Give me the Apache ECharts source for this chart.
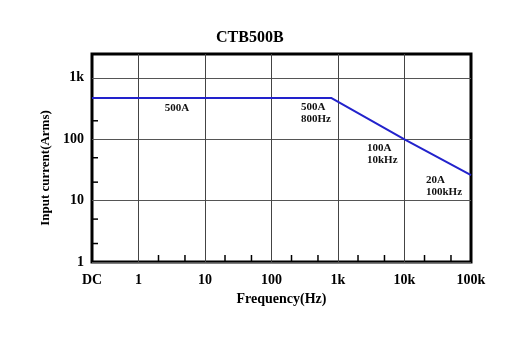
<!DOCTYPE html>
<html>
<head>
<meta charset="utf-8">
<script src="https://cdn.jsdelivr.net/npm/echarts@6/dist/echarts.min.js"></script>
<style>
  html, body { margin: 0; padding: 0; background: #fff; }
  #chart { width: 524px; height: 353px; }
</style>
</head>
<body>
<div id="chart"></div>
<script>
// curve: frequency (Hz) vs input current (Arms)
const freqHz = [0.2, 800, 10000, 100000];
const currentA = [470, 470, 100, 26];

// axis ticks
const xTickFreqs = [0.2, 1, 10, 100, 1000, 10000, 100000];
const xTickLabels = ["DC", "1", "10", "100", "1k", "10k", "100k"];
const xGridFreqs = [1, 10, 100, 1000, 10000];
const xMinorFreqs = [2, 5, 20, 50, 200, 500, 2000, 5000, 20000, 50000];
const yTickValues = [1, 10, 100, 1000];
const yTickLabels = ["1", "10", "100", "1k"];
const yMinorValues = [2, 5, 20, 50, 200];
const yMax = 2450;

// annotations
const notes = ["500A", "500A\n800Hz", "100A\n10kHz", "20A\n100kHz"];

const lg = Math.log10;
const xMin = lg(freqHz[0]);
const xMax = lg(100000);
const yMin = 0;

const chart = echarts.init(document.getElementById("chart"));
const serif = "Liberation Serif";

const option = {
  animation: false,
  title: {
    text: "CTB500B",
    left: 216,
    top: 30,
    padding: 0,
    textStyle: { fontFamily: serif, fontWeight: "bold", fontSize: 16, color: "#000" }
  },
  grid: {
    left: 92, right: 53, top: 54, bottom: 91,
    show: true, borderColor: "#000", borderWidth: 3
  },
  xAxis: {
    type: "value",
    min: xMin, max: xMax,
    name: "Frequency(Hz)",
    nameLocation: "middle",
    nameGap: 27,
    nameTextStyle: { fontFamily: serif, fontWeight: "bold", fontSize: 14, color: "#000" },
    axisLine: { show: false },
    axisTick: { show: false, customValues: xGridFreqs.map(lg) },
    axisLabel: {
      customValues: xTickFreqs.map(lg),
      margin: 11,
      fontFamily: serif, fontWeight: "bold", fontSize: 14, color: "#000",
      formatter: (v) => {
        const i = xTickFreqs.findIndex(f => Math.abs(lg(f) - v) < 1e-6);
        return i >= 0 ? xTickLabels[i] : "";
      }
    },
    splitLine: { show: true, customValues: xGridFreqs.map(lg), lineStyle: { color: "#444", width: 1 } }
  },
  yAxis: {
    type: "value",
    min: yMin, max: lg(yMax),
    name: "Input current(Arms)",
    nameLocation: "middle",
    nameGap: 37,
    nameTextStyle: { fontFamily: serif, fontWeight: "bold", fontSize: 13, color: "#000", padding: [0, 20, 0, 0] },
    axisLine: { show: false },
    axisTick: { show: false, customValues: yTickValues.map(lg) },
    axisLabel: {
      customValues: yTickValues.map(lg),
      margin: 8,
      fontFamily: serif, fontWeight: "bold", fontSize: 14, color: "#000",
      formatter: (v) => {
        const i = yTickValues.findIndex(t => Math.abs(lg(t) - v) < 1e-6);
        return i >= 0 ? yTickLabels[i] : "";
      }
    },
    splitLine: { show: true, customValues: yTickValues.map(lg), lineStyle: { color: "#555", width: 1 } }
  },
  graphic: [
    { type: "text", x: 177, y: 108, style: { text: notes[0], fontFamily: serif, fontWeight: "bold", fontSize: 11, fill: "#111", align: "center", verticalAlign: "middle" } },
    { type: "text", x: 301, y: 113.5, style: { text: notes[1], fontFamily: serif, fontWeight: "bold", fontSize: 11, lineHeight: 12, fill: "#111", align: "left", verticalAlign: "middle" } },
    { type: "text", x: 367, y: 154.5, style: { text: notes[2], fontFamily: serif, fontWeight: "bold", fontSize: 11, lineHeight: 12, fill: "#111", align: "left", verticalAlign: "middle" } },
    { type: "text", x: 426, y: 186.5, style: { text: notes[3], fontFamily: serif, fontWeight: "bold", fontSize: 11, lineHeight: 12, fill: "#111", align: "left", verticalAlign: "middle" } }
  ],
  series: [
    {
      type: "custom",
      silent: true,
      clip: false,
      data: xMinorFreqs.map(f => [lg(f), yMin]),
      renderItem: (params, api) => {
        const p = api.coord([api.value(0), api.value(1)]);
        return {
          type: "line",
          shape: { x1: p[0], y1: p[1] - 1, x2: p[0], y2: p[1] - 7 },
          style: { stroke: "#000", lineWidth: 1.5 }
        };
      },
      z: 5
    },
    {
      type: "custom",
      silent: true,
      clip: false,
      data: yMinorValues.map(v => [xMin, lg(v)]),
      renderItem: (params, api) => {
        const p = api.coord([api.value(0), api.value(1)]);
        return {
          type: "line",
          shape: { x1: p[0] + 1, y1: p[1], x2: p[0] + 6, y2: p[1] },
          style: { stroke: "#000", lineWidth: 1.5 }
        };
      },
      z: 5
    },
    {
      type: "line",
      data: freqHz.map((f, i) => [lg(f), lg(currentA[i])]),
      showSymbol: false,
      lineStyle: { color: "#2222cc", width: 2 },
      z: 6
    }
  ]
};

chart.setOption(option);
</script>
</body>
</html>
